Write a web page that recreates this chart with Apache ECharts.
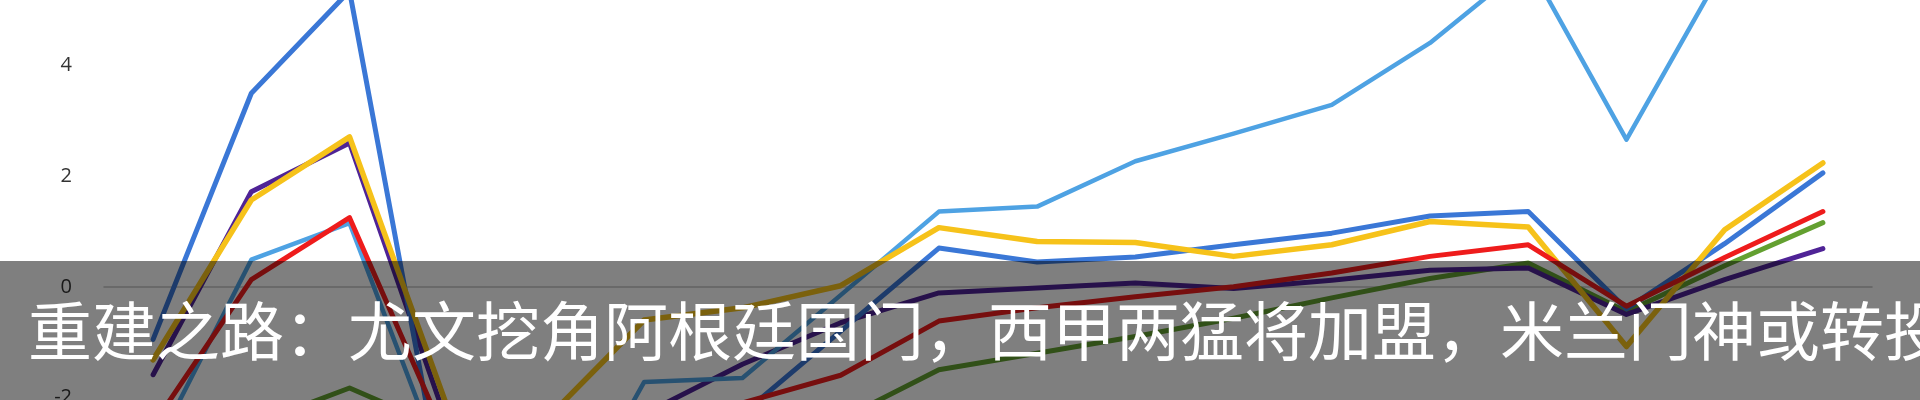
<!DOCTYPE html>
<html>
<head>
<meta charset="utf-8">
<script src="https://cdn.jsdelivr.net/npm/echarts@6/dist/echarts.min.js"></script>
<style>
html,body{margin:0;padding:0;background:#fff;}
#c{width:1920px;height:400px;}
</style>
</head>
<body>
<div id="c"></div>
<script>
var categories = ['1','2','3','4','5','6','7','8','9','10','11','12','13','14','15','16','17','18'];
var yTicks = [-4, -2, 0, 2, 4, 6];
var seriesBlue      = [-0.95, 3.5, 5.35, -4.2, -3.6, -2.9, -2.3, -0.8, 0.70, 0.45, 0.54, 0.76, 0.97, 1.28, 1.36, -0.4, 0.78, 2.06];
var seriesLightBlue = [-3.0, 0.49, 1.15, -3.5, -4.9, -1.72, -1.65, -0.15, 1.36, 1.45, 2.27, 2.77, 3.29, 4.41, 5.85, 2.66, 5.8, 6.3];
var seriesYellow    = [-1.32, 1.57, 2.71, -2.2, -2.4, -0.6, -0.38, 0.02, 1.07, 0.82, 0.80, 0.55, 0.76, 1.18, 1.08, -1.08, 1.03, 2.24];
var seriesPurple    = [-1.59, 1.72, 2.6, -2.5, -2.6, -2.3, -1.4, -0.65, -0.11, -0.02, 0.07, -0.03, 0.12, 0.3, 0.34, -0.5, 0.13, 0.69];
var seriesRed       = [-2.5, 0.13, 1.25, -2.8, -3.0, -2.6, -2.1, -1.6, -0.62, -0.38, -0.18, 0.0, 0.25, 0.55, 0.76, -0.35, 0.53, 1.36];
var seriesGreen     = [-3.0, -2.5, -1.83, -2.6, -3.0, -2.9, -2.7, -2.4, -1.5, -1.2, -0.9, -0.57, -0.2, 0.15, 0.43, -0.45, 0.38, 1.16];
var caption = '重建之路：尤文挖角阿根廷国门，西甲两猛将加盟，米兰门神或转投';

function mk(name, data, color, width) {
  return {
    name: name, type: 'line', data: data, symbol: 'none', smooth: false,
    lineStyle: { color: color, width: width, cap: 'round', join: 'round' },
    itemStyle: { color: color },
    emphasis: { disabled: true }, animation: false
  };
}

var chart = echarts.init(document.getElementById('c'), null, { renderer: 'canvas' });
chart.setOption({
  animation: false,
  backgroundColor: '#ffffff',
  grid: { left: 104, width: 1768, top: -45, height: 553, containLabel: false, outerBoundsMode: 'none' },
  xAxis: {
    type: 'category', data: categories, boundaryGap: true,
    axisLine: { show: true, onZero: true, lineStyle: { color: '#c4c4c4', width: 1.5 } },
    axisTick: { show: false }, axisLabel: { show: false }, splitLine: { show: false }
  },
  yAxis: {
    type: 'value', min: yTicks[0], max: yTicks[yTicks.length - 1], interval: 2,
    axisLine: { show: false }, axisTick: { show: false }, splitLine: { show: false },
    axisLabel: { margin: 32, color: '#333333', fontSize: 20, fontFamily: 'Open Sans' }
  },
  series: [
    mk('green', seriesGreen, '#63a030', 5),
    mk('purple', seriesPurple, '#4f2396', 5),
    mk('lightblue', seriesLightBlue, '#4ea2e3', 4.5),
    mk('blue', seriesBlue, '#3a77d6', 5),
    mk('yellow', seriesYellow, '#f6c21a', 5.5),
    mk('red', seriesRed, '#ee1c1c', 5)
  ],
  graphic: [
    { type: 'rect', z: 100, shape: { x: 0, y: 261, width: 1920, height: 139 }, style: { fill: 'rgba(0,0,0,0.5)' } },
    { type: 'text', z: 101, x: 28, y: 331, style: { text: caption, fill: '#ffffff', font: '64px "Noto Sans CJK SC"', textVerticalAlign: 'middle', textAlign: 'left' } }
  ]
});
</script>
</body>
</html>
